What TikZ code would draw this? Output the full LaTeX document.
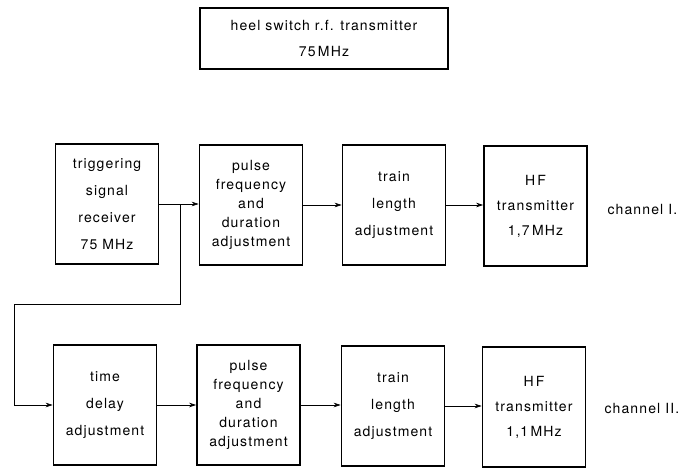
\documentclass[tikz,border=0pt]{standalone}
\usepackage{fontspec}
\setmainfont{TeX Gyre Heros}[LetterSpace=8]
\usetikzlibrary{arrows.meta}
\begin{document}
\begin{tikzpicture}[x=1pt,y=-1pt,
  blk/.style={draw,line width=1.6pt,minimum width=103pt,minimum height=120pt,align=center,inner sep=2pt,
    font={\fontsize{14}{27}\selectfont}},
  dense/.style={font={\fontsize{14}{19}\selectfont}},
  lbl/.style={font={\fontsize{14}{17}\selectfont},anchor=west},
  conn/.style={line width=0.7pt},
  arr/.style={conn,-{Stealth[length=7pt,width=4.5pt]}}]
\useasboundingbox (0,0) rectangle (685,468);
\node[blk,minimum width=248pt,minimum height=61pt,font={\fontsize{14}{26}\selectfont}] (top) at (324,38.5)
  {heel switch r.f. transmitter\\75\,MHz};
% row 1
\node[blk] (a1) at (107,204) {triggering\\signal\\receiver\\75 MHz};
\node[blk,dense] (a2) at (251,205) {pulse\\frequency\\and\\duration\\adjustment};
\node[blk] (a3) at (394,205) {train\\length\\adjustment};
\node[blk,font={\fontsize{14}{25}\selectfont}] (a4) at (535.5,206) {H\,F\\transmitter\\1,7\,MHz};
\node[lbl] (c1) at (604,210) {channel I.};
% row 2
\node[blk] (b1) at (105,405) {time\\delay\\adjustment};
\node[blk,dense] (b2) at (248.5,405) {pulse\\frequency\\and\\duration\\adjustment};
\node[blk] (b3) at (393,406) {train\\length\\adjustment};
\node[blk,font={\fontsize{14}{25}\selectfont}] (b4) at (534,407) {H\,F\\transmitter\\1,1\,MHz};
\node[lbl] (c2) at (601,408) {channel II.};
% connectors
\draw[arr] (a1.east) -- (a1.east -| a2.west);
\draw[arr] (a2.east) -- (a2.east -| a3.west);
\draw[arr] (a3.east) -- (a3.east -| a4.west);
\coordinate (j) at (180,204);
\coordinate (k1) at (180,304);
\coordinate (k2) at (14,304);
\draw[arr] (j) -- (k1) -- (k2) -- (k2 |- b1.west) -- (b1.west);
\draw[arr] (b1.east) -- (b1.east -| b2.west);
\draw[arr] (b2.east) -- (b2.east -| b3.west);
\draw[arr] (b3.east) -- (b3.east -| b4.west);
\end{tikzpicture}
\end{document}
